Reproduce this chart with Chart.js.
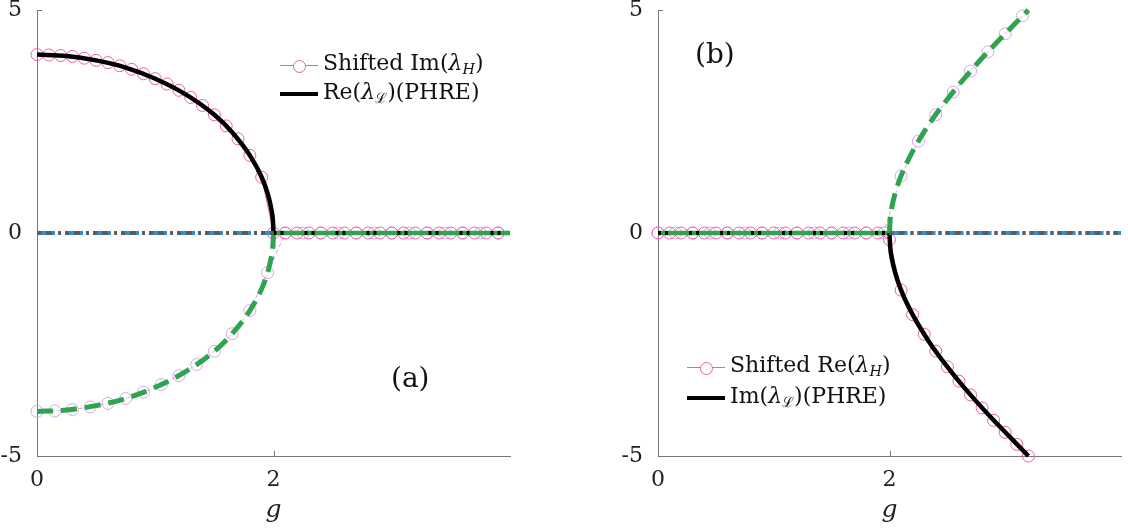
<!DOCTYPE html>
<html>
<head>
<meta charset="utf-8">
<script src="https://cdn.jsdelivr.net/npm/chart.js@4.4.0/dist/chart.umd.min.js"></script>
<style>
  body { margin: 0; background: #fff; }
  .wrap { position: absolute; top: 0; height: 531px; }
  .row { position: absolute; height: 30px; line-height: 30px; font: 22px 'DejaVu Serif', serif; white-space: nowrap; color: #111; }
  .row .txt { position: absolute; left: 43px; top: 0; }
  .row .ln { position: absolute; left: 0; width: 38px; top: 15px; height: 0; border-top: 1px solid #ee5fa7; }
  .row .ln.thick { border-top: 4px solid #000; top: 13px; }
  .row .dot { position: absolute; left: 13px; top: -6px; width: 11px; height: 11px; border: 1px solid #ee5fa7; border-radius: 50%; background: #fff; }
  .row sub { font-size: 65%; vertical-align: -0.3em; }
  .tag { position: absolute; font: 28px 'DejaVu Serif', serif; color: #111; line-height: 30px; }
</style>
</head>
<body>
<div class="wrap" style="left:0;width:520px"><canvas id="chartA"></canvas></div>
<div class="wrap" style="left:620px;width:508px"><canvas id="chartB"></canvas></div>

<div class="row" style="left:280px;top:50px"><span class="ln"><span class="dot"></span></span><span class="txt">Shifted Im(<i>λ</i><sub><i>H</i></sub>)</span></div>
<div class="row" style="left:280px;top:79px"><span class="ln thick"></span><span class="txt">Re(<i>λ</i><sub>ℒ</sub>)(PHRE)</span></div>
<div class="tag" style="left:391px;top:363px">(a)</div>

<div class="row" style="left:687px;top:352px"><span class="ln"><span class="dot"></span></span><span class="txt">Shifted Re(<i>λ</i><sub><i>H</i></sub>)</span></div>
<div class="row" style="left:687px;top:383px"><span class="ln thick"></span><span class="txt">Im(<i>λ</i><sub>ℒ</sub>)(PHRE)</span></div>
<div class="tag" style="left:695px;top:39px">(b)</div>

<script>
// ticks
const xTicks = [0, 2];
const yTicks = [-5, 0, 5];

// panel (a): branches meeting at g = 2
const aCurveG = [0, 0.25, 0.5, 0.75, 1, 1.25, 1.5, 1.65, 1.8, 1.9, 1.95, 1.98, 1.995, 2];
const aUpperY = [4, 3.97, 3.87, 3.71, 3.46, 3.12, 2.65, 2.26, 1.74, 1.25, 0.89, 0.56, 0.28, 0];
const aLowerY = [-4, -3.97, -3.87, -3.71, -3.46, -3.12, -2.65, -2.26, -1.74, -1.25, -0.89, -0.56, -0.28, 0];
const aLeftG = [0, 2];
const aRightG = [2, 4];
const zeroY = [0, 0];

const aPinkG = [0, 0.1, 0.2, 0.3, 0.4, 0.5, 0.6, 0.7, 0.8, 0.9, 1, 1.1, 1.2, 1.3, 1.4, 1.5, 1.6, 1.7, 1.8, 1.9,
  2, 2.1, 2.2, 2.3, 2.4, 2.5, 2.6, 2.7, 2.8, 2.9, 3, 3.1, 3.2, 3.3, 3.4, 3.5, 3.6, 3.7, 3.8, 3.9];
const aPinkY = [4, 3.99, 3.98, 3.96, 3.92, 3.87, 3.82, 3.75, 3.67, 3.57, 3.46, 3.34, 3.2, 3.04, 2.86, 2.65, 2.4, 2.11, 1.74, 1.25,
  0, 0, 0, 0, 0, 0, 0, 0, 0, 0, 0, 0, 0, 0, 0, 0, 0, 0, 0, 0];
const aLilacG = [0, 0.15, 0.3, 0.45, 0.6, 0.75, 0.9, 1.05, 1.2, 1.35, 1.5, 1.65, 1.8, 1.95,
  2.1, 2.25, 2.4, 2.55, 2.7, 2.85, 3, 3.15, 3.3, 3.45, 3.6, 3.75, 3.9];
const aLilacY = [-4, -3.99, -3.96, -3.9, -3.82, -3.71, -3.57, -3.4, -3.2, -2.95, -2.65, -2.26, -1.74, -0.89,
  0, 0, 0, 0, 0, 0, 0, 0, 0, 0, 0, 0, 0];

// panel (b)
const bCurveG = [2, 2.005, 2.02, 2.05, 2.1, 2.2, 2.35, 2.5, 2.7, 2.9, 3.05, 3.2];
const bUpperY = [0, 0.28, 0.57, 0.9, 1.28, 1.83, 2.47, 3, 3.63, 4.2, 4.6, 5];
const bLowerY = [0, -0.28, -0.57, -0.9, -1.28, -1.83, -2.47, -3, -3.63, -4.2, -4.6, -5];

const bPinkG = [0, 0.1, 0.2, 0.3, 0.4, 0.5, 0.6, 0.7, 0.8, 0.9, 1, 1.1, 1.2, 1.3, 1.4, 1.5, 1.6, 1.7, 1.8, 1.9,
  2, 2.1, 2.2, 2.3, 2.4, 2.5, 2.6, 2.7, 2.8, 2.9, 3, 3.1, 3.2];
const bPinkY = [0, 0, 0, 0, 0, 0, 0, 0, 0, 0, 0, 0, 0, 0, 0, 0, 0, 0, 0, 0,
  -0.15, -1.28, -1.83, -2.27, -2.65, -3, -3.32, -3.63, -3.92, -4.2, -4.47, -4.74, -5];
const bLilacG = [0, 0.15, 0.3, 0.45, 0.6, 0.75, 0.9, 1.05, 1.2, 1.35, 1.5, 1.65, 1.8, 1.95,
  2.1, 2.25, 2.4, 2.55, 2.7, 2.85, 3, 3.15];
const bLilacY = [0, 0, 0, 0, 0, 0, 0, 0, 0, 0, 0, 0, 0, 0,
  1.28, 2.06, 2.65, 3.16, 3.63, 4.06, 4.47, 4.87];

const pink = '#ee5fa7';
const lilac = '#d9a3e8';
const green = '#2ea44f';
const grayDash = '#5c5c5c';
const blue = '#2c8fd4';
const axisColor = '#777';
const serif = "'DejaVu Serif', serif";

function pts(xs, ys) {
  return xs.map((x, i) => ({ x: x, y: ys[i] }));
}

// line datasets, first one in the list is drawn on top
function dashDot(xs) {
  return [
    { data: pts(xs, zeroY), borderColor: grayDash, borderWidth: 4, borderDash: [4, 5, 6, 6, 3, 4] },
    { data: pts(xs, zeroY), borderColor: blue, borderWidth: 4, borderDash: [18, 3, 3, 4] }
  ];
}
function blackSolid(xs, ys) {
  return { data: pts(xs, ys), borderColor: '#000', borderWidth: 4.5, cubicInterpolationMode: 'monotone' };
}
function blackDotted(xs) {
  return { data: pts(xs, zeroY), borderColor: '#000', borderWidth: 4, borderDash: [3, 4, 3, 21] };
}
function greenDashed(xs, ys) {
  return { data: pts(xs, ys), borderColor: green, borderWidth: 5, borderDash: [16, 8], cubicInterpolationMode: 'monotone' };
}
function greenSolid(xs) {
  return { data: pts(xs, zeroY), borderColor: green, borderWidth: 4.5 };
}
function circles(xs, ys, color, dash) {
  return { data: pts(xs, ys), borderColor: color, borderWidth: 1, borderDash: dash,
    pointRadius: 6, pointBorderWidth: 1, pointBorderColor: color, pointBackgroundColor: 'rgba(0,0,0,0)' };
}

const inwardTicks = {
  id: 'inwardTicks',
  beforeDatasetsDraw(chart) {
    const { ctx, chartArea, scales: { x, y } } = chart;
    ctx.save();
    ctx.strokeStyle = axisColor;
    ctx.lineWidth = 1;
    ctx.beginPath();
    xTicks.forEach(v => {
      const px = Math.round(x.getPixelForValue(v)) + 0.5;
      ctx.moveTo(px, chartArea.bottom);
      ctx.lineTo(px, chartArea.bottom - 5);
    });
    yTicks.forEach(v => {
      const py = Math.round(y.getPixelForValue(v)) + 0.5;
      ctx.moveTo(chartArea.left, py);
      ctx.lineTo(chartArea.left + 5, py);
    });
    ctx.stroke();
    ctx.restore();
  }
};

function makeOptions(yWidth, padRight) {
  return {
    responsive: true,
    maintainAspectRatio: false,
    animation: false,
    layout: { padding: { top: 10, right: padRight, bottom: 0, left: 0 } },
    plugins: { legend: { display: false }, tooltip: { enabled: false } },
    elements: { point: { radius: 0 }, line: { tension: 0 } },
    datasets: { scatter: { showLine: true, clip: false } },
    scales: {
      x: {
        type: 'linear', min: 0, max: 4,
        grid: { display: false },
        border: { color: axisColor, width: 1 },
        afterBuildTicks: s => { s.ticks = xTicks.map(v => ({ value: v })); },
        afterFit: s => { s.height = 75; s.paddingLeft = 0; s.paddingRight = 0; },
        ticks: { color: '#222', padding: 3, font: { family: serif, size: 22 } },
        title: { display: true, text: 'g', color: '#222', padding: { top: 0, bottom: 6 },
          font: { family: serif, size: 25, style: 'italic' } }
      },
      y: {
        type: 'linear', min: -5, max: 5,
        grid: { display: false },
        border: { color: axisColor, width: 1 },
        afterBuildTicks: s => { s.ticks = yTicks.map(v => ({ value: v })); },
        afterFit: s => { s.width = yWidth; s.paddingTop = 0; s.paddingBottom = 0; },
        ticks: { color: '#222', padding: 7, font: { family: serif, size: 22 } }
      }
    }
  };
}

// Panel (a)
new Chart(document.getElementById('chartA'), {
  type: 'scatter',
  data: {
    datasets: [
      ...dashDot(aLeftG),
      blackSolid(aCurveG, aUpperY),
      blackDotted(aRightG),
      greenSolid(aRightG),
      greenDashed(aCurveG, aLowerY),
      circles(aPinkG, aPinkY, pink, []),
      circles(aLilacG, aLilacY, lilac, [4, 3])
    ]
  },
  options: makeOptions(37, 10),
  plugins: [inwardTicks]
});

// Panel (b)
new Chart(document.getElementById('chartB'), {
  type: 'scatter',
  data: {
    datasets: [
      ...dashDot(aRightG),
      blackSolid(bCurveG, bLowerY),
      blackDotted(aLeftG),
      greenSolid(aLeftG),
      greenDashed(bCurveG, bUpperY),
      circles(bPinkG, bPinkY, pink, []),
      circles(bLilacG, bLilacY, lilac, [4, 3])
    ]
  },
  options: makeOptions(38, 0),
  plugins: [inwardTicks]
});
</script>
</body>
</html>
